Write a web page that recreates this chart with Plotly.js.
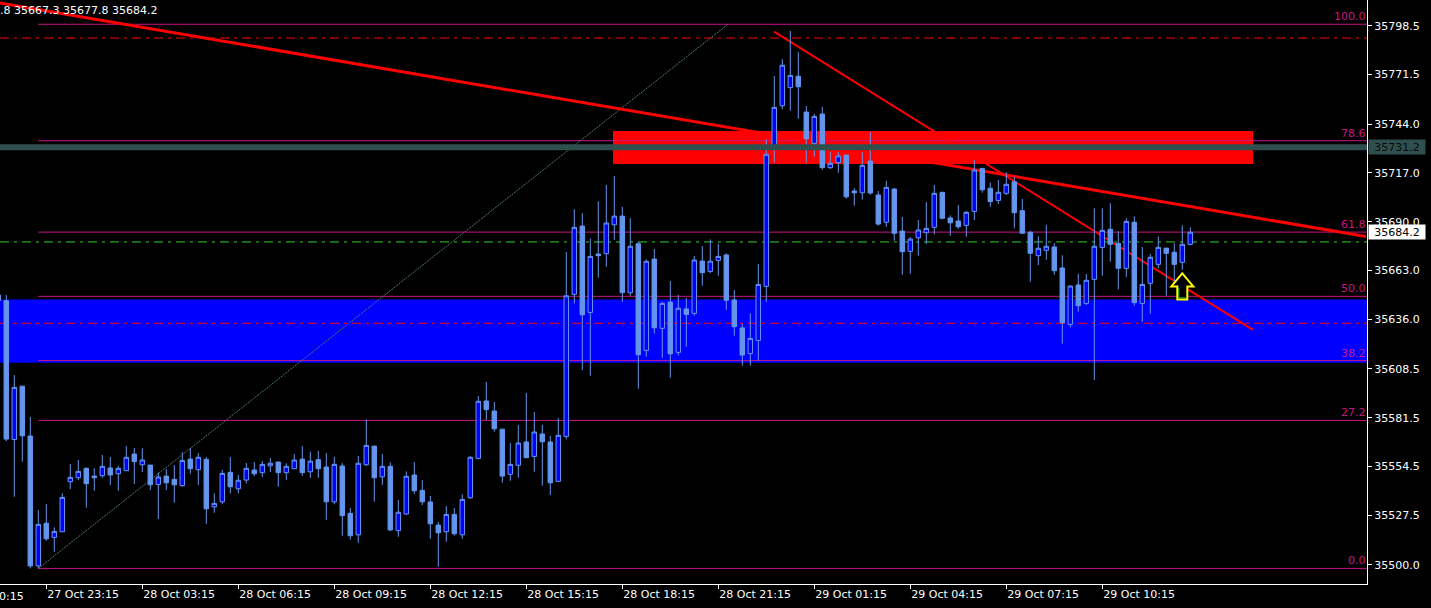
<!DOCTYPE html>
<html>
<head>
<meta charset="utf-8">
<script src="https://cdn.plot.ly/plotly-3.0.1.min.js"></script>
<style>
html,body{margin:0;padding:0;background:#000;}
#chart{width:1431px;height:608px;}
</style>
</head>
<body>
<div id="chart"></div>
<script>
// ---- candle data (15-minute bars, first value = partially visible bar at left edge) ----
const opens = [35649.4,35646.3,35569.5,35599.0,35571.4,35499.5,35523.1,35515.3,35518.4,35546.1,35548.3,
35553.5,35549.2,35549.4,35553.7,35550.5,35552.2,35561.4,35555.5,35555.3,35544.6,
35549.2,35547.4,35543.9,35558.6,35552.7,35558.5,35532.2,35535.0,35551.3,35542.2,
35547.0,35552.6,35551.1,35554.9,35557.0,35551.1,35553.3,35558.6,35551.6,35558.3,
35554.2,35535.0,35554.8,35528.6,35516.7,35555.5,35565.8,35548.8,35554.6,35519.0,
35528.2,35549.8,35541.3,35534.9,35522.1,35518.4,35528.0,35516.7,35537.2,35559.0,
35590.8,35585.2,35575.2,35550.2,35555.2,35568.1,35560.1,35572.5,35568.1,35546.3,
35571.2,35649.8,35687.6,35639.8,35672.1,35672.3,35688.3,35693.1,35650.7,35677.8,
35618.8,35669.3,35631.0,35645.5,35617.7,35641.7,35639.3,35668.2,35662.5,35668.6,
35671.6,35646.7,35631.2,35617.1,35624.3,35654.2,35731.9,35754.2,35764.2,35770.5,
35750.7,35733.4,35749.6,35719.9,35722.7,35726.9,35707.0,35706.0,35723.6,35704.8,
35689.7,35708.1,35684.8,35673.6,35681.1,35683.9,35686.9,35706.3,35692.1,35690.4,
35688.0,35695.7,35719.5,35708.5,35701.8,35705.7,35712.1,35696.1,35684.1,35671.2,
35674.2,35676.0,35664.4,35633.2,35655.0,35644.8,35658.1,35675.8,35685.8,35678.0,
35664.2,35689.7,35644.8,35655.9,35666.4,35675.4,35673.1,35667.5,35677.5];
const highs = [35650.5,35649.4,35605.1,35599.0,35581.9,35530.4,35533.7,35520.8,35539.6,35555.9,35558.1,
35554.0,35553.5,35560.9,35559.8,35554.8,35565.8,35564.7,35564.7,35555.3,35551.1,
35553.1,35555.3,35562.4,35564.6,35562.0,35559.8,35539.6,35552.6,35559.8,35549.8,
35556.4,35557.0,35557.5,35559.2,35557.0,35556.3,35561.4,35565.8,35562.7,35563.1,
35562.0,35559.8,35556.4,35531.5,35560.3,35580.6,35565.8,35561.4,35556.8,35536.0,
35551.8,35557.0,35547.0,35538.2,35523.8,35532.6,35531.5,35539.1,35560.3,35593.5,
35601.3,35590.2,35575.2,35567.5,35577.5,35595.2,35584.7,35577.5,35571.4,35581.3,
35673.2,35696.9,35694.8,35680.8,35701.3,35710.3,35715.3,35698.2,35692.0,35678.9,
35669.2,35674.9,35645.7,35657.2,35649.4,35647.9,35671.0,35676.5,35680.2,35677.8,
35672.5,35652.2,35633.4,35639.3,35666.6,35735.6,35770.6,35779.9,35795.6,35783.9,
35754.0,35749.6,35753.5,35728.7,35728.7,35726.9,35708.6,35728.6,35739.7,35707.0,
35712.7,35708.6,35692.6,35681.5,35690.9,35700.9,35710.3,35706.3,35693.5,35699.2,
35696.0,35724.1,35719.5,35711.6,35713.1,35717.3,35714.6,35702.6,35685.0,35681.9,
35688.2,35678.2,35671.4,35654.8,35661.1,35661.1,35697.4,35697.4,35700.2,35684.7,
35692.0,35693.0,35676.0,35672.1,35681.9,35675.4,35678.0,35688.0,35686.9];
const lows = [35645.5,35568.6,35537.8,35557.1,35498.1,35498.1,35513.4,35507.3,35518.4,35542.0,35547.0,
35531.7,35541.1,35548.3,35544.3,35541.1,35552.2,35544.8,35551.4,35541.5,35525.4,
35541.5,35534.5,35543.3,35550.5,35544.3,35522.8,35528.9,35533.7,35539.6,35539.6,
35545.2,35549.2,35548.7,35551.4,35543.3,35547.0,35553.3,35549.2,35548.3,35548.3,
35525.0,35533.6,35516.2,35514.0,35512.3,35554.8,35535.0,35544.4,35518.8,35515.6,
35527.7,35539.4,35533.2,35514.5,35499.0,35512.9,35516.2,35514.5,35536.7,35558.5,
35580.2,35573.8,35545.5,35546.6,35548.3,35559.4,35551.6,35543.9,35538.7,35546.3,
35569.5,35644.8,35607.9,35604.8,35659.0,35665.1,35680.0,35645.7,35649.0,35597.6,
35615.3,35628.0,35614.7,35603.6,35616.0,35620.8,35638.0,35654.6,35661.4,35660.1,
35641.3,35626.9,35610.3,35610.3,35613.1,35645.7,35722.7,35752.2,35751.4,35747.0,
35722.7,35726.0,35718.8,35719.2,35717.1,35702.7,35698.9,35702.2,35704.9,35687.8,
35687.2,35679.5,35660.7,35661.2,35671.2,35677.8,35683.0,35691.3,35682.2,35686.1,
35681.7,35690.9,35706.0,35698.3,35699.8,35704.8,35686.3,35683.6,35656.8,35666.0,
35669.0,35660.7,35622.5,35631.5,35640.2,35643.9,35602.4,35660.1,35667.9,35652.6,
35659.5,35643.5,35634.6,35639.1,35664.2,35649.0,35654.0,35663.4,35676.9];
const closes = [35646.3,35569.7,35598.3,35571.5,35499.5,35522.5,35514.5,35518.6,35537.4,35548.5,35551.8,
35545.0,35548.3,35554.6,35549.8,35553.5,35559.6,35557.2,35558.1,35544.4,35548.7,
35545.5,35544.4,35557.9,35553.3,35559.6,35531.1,35534.1,35550.7,35543.3,35546.9,
35553.5,35550.5,35555.7,35556.3,35551.1,35554.6,35558.1,35551.1,35557.5,35553.3,
35535.0,35555.7,35527.3,35516.2,35556.3,35566.2,35548.3,35554.6,35519.4,35529.2,
35549.1,35541.1,35535.0,35522.8,35517.8,35528.0,35517.3,35536.3,35559.6,35590.6,
35586.0,35575.4,35549.2,35555.7,35567.5,35559.4,35573.6,35568.2,35545.5,35571.8,
35649.0,35686.9,35638.5,35670.8,35671.2,35689.3,35693.1,35650.7,35676.4,35616.4,
35668.1,35631.3,35644.8,35616.9,35642.1,35638.7,35668.8,35661.8,35668.2,35670.8,
35646.5,35631.9,35616.2,35625.4,35655.3,35727.3,35753.3,35776.6,35771.0,35764.7,
35735.9,35748.3,35719.9,35722.3,35726.4,35703.8,35706.0,35721.2,35705.9,35688.7,
35709.0,35683.6,35673.4,35680.4,35685.4,35686.3,35705.7,35691.9,35689.4,35687.2,
35695.2,35718.6,35707.7,35701.1,35706.3,35710.7,35695.0,35683.6,35672.5,35675.3,
35676.4,35662.9,35634.1,35654.4,35643.5,35657.6,35676.4,35685.2,35677.5,35664.2,
35690.2,35645.2,35655.3,35670.3,35675.8,35672.5,35666.4,35677.5,35684.2];
const firstBarIndex = -1;

// ---- axes ----
const timeTickIndex = [5,17,29,41,53,65,77,89,101,113,125,137];
const timeTickLabels = ['27 Oct 23:15','28 Oct 03:15','28 Oct 06:15','28 Oct 09:15','28 Oct 12:15',
  '28 Oct 15:15','28 Oct 18:15','28 Oct 21:15','29 Oct 01:15','29 Oct 04:15','29 Oct 07:15','29 Oct 10:15'];
const hiddenTickIndex = -7;
const hiddenTickLabel = '27 Oct 20:15';
const priceTicks = [35798.5,35771.5,35744.0,35717.0,35690.0,35663.0,35636.0,35608.5,35581.5,35554.5,35527.5,35500.0];

// ---- drawn objects ----
const headerText = '.8 35667.3 35677.8 35684.2';
const fibLow = {idx: 4, price: 35498.1};
const fibHigh = {idx: 90.2, price: 35799.3};
const fibLevels = [0.0, 27.2, 38.2, 50.0, 61.8, 78.6, 100.0];
const supportZone = [35612.0, 35647.0];
const resistZone = {x0: 75.84, x1: 155.84, y0: 35722.0, y1: 35740.2};
const slateLinePrice = 35731.2;
const lastPrice = 35684.2;
const redDashPrices = [35791.7, 35633.8];
const greenDashPrice = 35678.8;
const longTrend = {x0: -0.79, y0: 35811.1, x1: 169.96, y1: 35681.8};
const steepTrend = {x0: 95.96, y0: 35795.2, x1: 155.84, y1: 35630.1};
const arrowTip = {idx: 147, price: 35661.4};

const xRange = [-0.7875, 170.0875];
const yRange = [35489.48, 35812.72];

const barIndex = opens.map((_, k) => k + firstBarIndex);
const FONT = 'DejaVu Sans';
const FIB_COLOR = '#C71585';
const DASHDOT = '9px,5px,3px,5px';

const traces = [{
  type: 'candlestick',
  x: barIndex, open: opens, high: highs, low: lows, close: closes,
  increasing: {line: {color: '#6495ED', width: 1}, fillcolor: '#0000FF'},
  decreasing: {line: {color: '#6495ED', width: 1}, fillcolor: '#6495ED'},
  whiskerwidth: 0,
  hoverinfo: 'none',
  showlegend: false
}];

const shapes = [];
shapes.push({type:'rect', layer:'below', xref:'paper', x0:0, x1:1, yref:'y', y0:supportZone[0], y1:supportZone[1],
  fillcolor:'#0000FF', line:{width:0}});
shapes.push({type:'rect', layer:'below', xref:'x', x0:resistZone.x0, x1:resistZone.x1, yref:'y', y0:resistZone.y0, y1:resistZone.y1,
  fillcolor:'#FF0000', line:{width:0}});
const fibRange = fibHigh.price - fibLow.price;
fibLevels.forEach(lv => {
  const p = fibLow.price + fibRange * lv / 100;
  shapes.push({type:'line', layer:'below', xref:'x', x0:fibLow.idx, x1:xRange[1] + 5, yref:'y', y0:p, y1:p,
    line:{color:FIB_COLOR, width:1}});
});
shapes.push({type:'line', layer:'below', xref:'x', yref:'y', x0:fibLow.idx, y0:fibLow.price, x1:fibHigh.idx, y1:fibHigh.price,
  line:{color:'#4f7a72', width:1, dash:'2px,1px'}});
redDashPrices.forEach(p => shapes.push({type:'line', layer:'below', xref:'paper', x0:0, x1:1, yref:'y', y0:p, y1:p,
  line:{color:'#FF0000', width:1, dash:DASHDOT}}));
shapes.push({type:'line', layer:'below', xref:'paper', x0:0, x1:1, yref:'y', y0:greenDashPrice, y1:greenDashPrice,
  line:{color:'#32CD32', width:1, dash:DASHDOT}});
shapes.push({type:'line', layer:'below', xref:'x', yref:'y', x0:longTrend.x0, y0:longTrend.y0, x1:longTrend.x1, y1:longTrend.y1,
  line:{color:'#FF0000', width:3}});
shapes.push({type:'line', layer:'below', xref:'x', yref:'y', x0:steepTrend.x0, y0:steepTrend.y0, x1:steepTrend.x1, y1:steepTrend.y1,
  line:{color:'#FF0000', width:2}});
shapes.push({type:'line', layer:'above', xref:'paper', x0:0, x1:1, yref:'y', y0:slateLinePrice, y1:slateLinePrice,
  line:{color:'#2F4F4F', width:6}});
shapes.push({type:'path', layer:'above', xref:'x', yref:'y', xsizemode:'pixel', ysizemode:'pixel',
  xanchor:arrowTip.idx, yanchor:arrowTip.price,
  path:'M0,0 L11,-13 L5,-13 L5,-26 L-5,-26 L-5,-13 L-11,-13 Z',
  fillcolor:'#000000', line:{color:'#FFFF00', width:2}});
shapes.push({type:'path', layer:'above', xref:'x', yref:'y', xsizemode:'pixel', ysizemode:'pixel',
  xanchor:arrowTip.idx, yanchor:arrowTip.price,
  path:'M-3.5,-14.5 L-3.5,-24.5 L3.5,-24.5',
  line:{color:'#32CD32', width:1}});

const annotations = [];
annotations.push({xref:'paper', yref:'paper', x:0, y:1, xanchor:'left', yanchor:'top', showarrow:false,
  text:headerText, font:{family:FONT, size:11, color:'#FFFFFF'}, xshift:-2, yshift:-2});
fibLevels.forEach(lv => {
  const p = fibLow.price + fibRange * lv / 100;
  annotations.push({xref:'paper', yref:'y', x:1, y:p, xanchor:'right', yanchor:'bottom', showarrow:false,
    text:lv.toFixed(1), font:{family:FONT, size:11, color:FIB_COLOR}, xshift:1, yshift:-1});
});
annotations.push({xref:'paper', yref:'y', x:1, y:slateLinePrice, xanchor:'left', yanchor:'middle', showarrow:false,
  text:slateLinePrice.toFixed(1), font:{family:FONT, size:11, color:'#0a0a0a'}, bgcolor:'#2F4F4F',
  width:54, height:12, borderpad:1, xshift:1});
annotations.push({xref:'paper', yref:'y', x:1, y:lastPrice, xanchor:'left', yanchor:'middle', showarrow:false,
  text:lastPrice.toFixed(1), font:{family:FONT, size:11, color:'#000000'}, bgcolor:'#FFFFFF',
  width:54, height:12, borderpad:1, xshift:1});
annotations.push({xref:'paper', yref:'paper',
  x:(hiddenTickIndex - xRange[0]) / (xRange[1] - xRange[0]), y:0, xanchor:'left', yanchor:'top', showarrow:false,
  text:hiddenTickLabel, font:{family:FONT, size:11, color:'#FFFFFF'}, yshift:-4});

const layout = {
  width:1431, height:608,
  paper_bgcolor:'#000000', plot_bgcolor:'#000000',
  margin:{l:0, r:64, t:0, b:24, pad:0},
  showlegend:false,
  boxgap:0.2, boxgroupgap:0.3,
  xaxis:{
    type:'linear', range:xRange, fixedrange:true,
    tickvals:timeTickIndex, ticktext:timeTickLabels,
    ticks:'outside', ticklen:4, tickcolor:'#FFFFFF', tickwidth:1,
    ticklabelposition:'outside right',
    tickfont:{family:FONT, size:11, color:'#FFFFFF'},
    showline:true, linecolor:'#FFFFFF', linewidth:1,
    showgrid:false, zeroline:false,
    rangeslider:{visible:false}
  },
  yaxis:{
    side:'right', range:yRange, fixedrange:true,
    tickvals:priceTicks, tickformat:'.1f',
    ticks:'outside', ticklen:4, tickcolor:'#FFFFFF', tickwidth:1,
    tickfont:{family:FONT, size:11, color:'#FFFFFF'},
    showline:true, linecolor:'#FFFFFF', linewidth:1,
    showgrid:false, zeroline:false
  },
  shapes:shapes,
  annotations:annotations
};

Plotly.newPlot('chart', traces, layout, {staticPlot:true, displayModeBar:false});
</script>
</body>
</html>
